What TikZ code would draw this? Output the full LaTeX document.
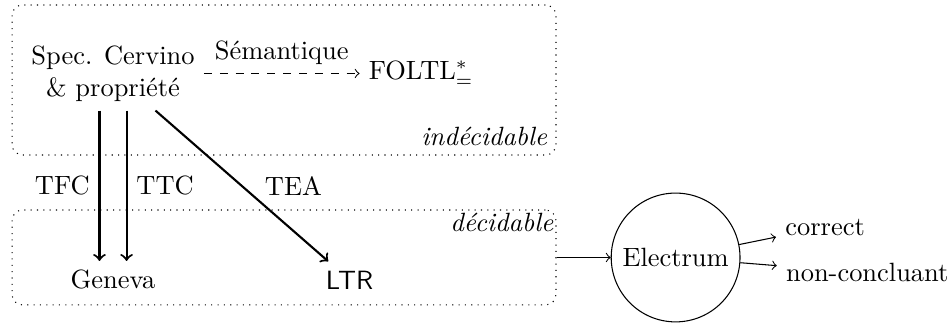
\documentclass[tikz,border=0pt]{standalone}
\usepackage{tikz}
\usetikzlibrary{positioning}
\tikzstyle{zone} = [rectangle, draw, dotted, rounded corners, inner sep=0pt]
\tikzstyle{tr} = [->, thick]

\begin{document}
\begin{tikzpicture}
\useasboundingbox (0,0) rectangle (12.66,-4.295);
\node(U)[zone, minimum width=7.234cm, minimum height=1.995cm] at (3.777,-1.064) {};
\node(D)[zone, minimum width=7.234cm, minimum height=1.263cm] at (3.777,-3.424) {};
\node(Ul)[anchor=south east] at (U.south east) {\textit{indécidable}};
\node(Dl)[anchor=north east, inner sep=1pt] at (D.north east) {\textit{décidable}};
\node(S)[align=center] at (1.503,-0.977) {Spec. Cervino\\ \& propriété};
\node(F)[right=2.07cm of S] {FOLTL$^*_=$};
\node(G)[below=2cm of S] {Geneva};
\node(L)[right=2.02cm of G] {\textsf{LTR}};
\node(E)[circle, draw, right=0.72cm of D] {Electrum};
\node(C)[anchor=west] at (10.32,-3.02) {correct};
\node(N)[anchor=west] at (10.33,-3.63) {non-concluant};
\draw[->, dashed](S) -- node[above] {Sémantique} (F);
\draw[tr]([xshift=-0.18cm]S.south) -- node[left] {TFC} ([xshift=-0.18cm]G.north);
\draw[tr]([xshift=0.18cm]S.south) -- node[right] {TTC} ([xshift=0.18cm]G.north);
\draw[tr](S) -- node[right=5pt] {TEA} (L);
\draw[->](D) -- (E);
\draw[->](E) -- (C);
\draw[->](E) -- (N);
\end{tikzpicture}
\end{document}
